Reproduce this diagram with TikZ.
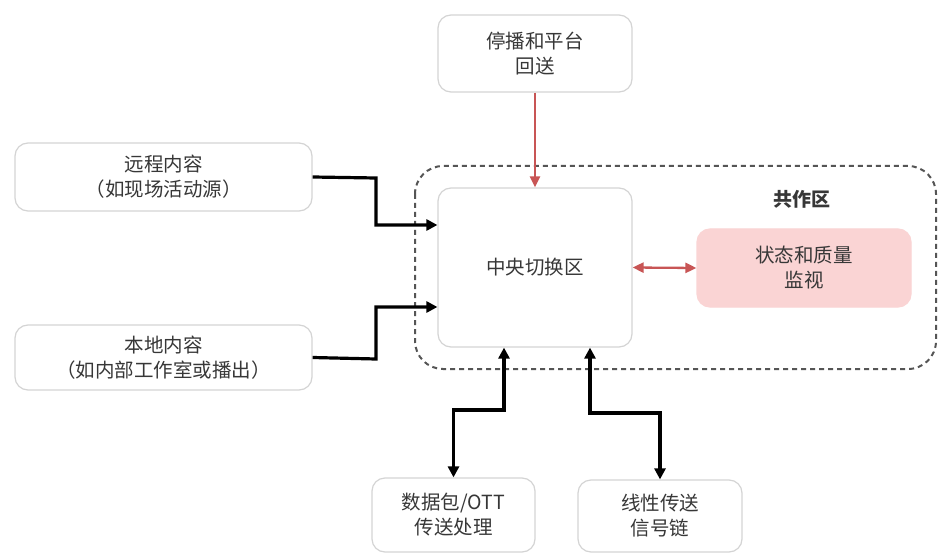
\documentclass[tikz,border=0pt]{standalone}
\usepackage{fontspec}
\setmainfont{Noto Sans CJK SC}
\newfontfamily\cjk{Noto Sans CJK SC}
\usetikzlibrary{arrows.meta}
\definecolor{boxline}{RGB}{212,212,212}
\definecolor{txt}{RGB}{55,55,55}
\definecolor{redl}{RGB}{200,85,85}
\definecolor{pinkf}{RGB}{250,212,212}
\definecolor{zonegray}{RGB}{85,85,85}
\tikzset{
  box/.style={draw=boxline, line width=1.2pt, rounded corners=13pt, fill=white,
    align=center, text=txt, font=\cjk\fontsize{19.5}{25}\selectfont, inner sep=0pt},
  blk/.style={line width=3.2pt, black, -{Triangle[length=11pt,width=11pt]}},
  blkb/.style={line width=3.2pt, black, {Triangle[length=11pt,width=11pt]}-{Triangle[length=11pt,width=11pt]}},
  redar/.style={line width=2.3pt, redl, -{Triangle[length=11pt,width=10pt]}},
  redb/.style={line width=2.3pt, redl, {Triangle[length=11pt,width=10pt]}-{Triangle[length=11pt,width=10pt]}},
  zonestyle/.style={draw=zonegray, line width=2pt, dash pattern=on 5pt off 4pt, rounded corners=28pt},
}
\begin{document}
\begin{tikzpicture}[x=1pt,y=-1pt]
\useasboundingbox[fill=white] (0,0) rectangle (939,553);
% dashed zone
\draw[zonestyle] (415,166) rectangle (936,369);
\node[text=txt, font=\cjk\bfseries\fontsize{19}{22}\selectfont] (zone) at (802,199) {共作区};
% nodes
\node[box, minimum width=194pt, minimum height=77pt] (t) at (535,53.5) {停播和平台\\回送};
\node[box, minimum width=194pt, minimum height=159pt] (c) at (535,267.5) {中央切换区};
\node[box, draw=pinkf, fill=pinkf, minimum width=214pt, minimum height=78pt] (m) at (804,268) {状态和质量\\监视};
\node[box, minimum width=297pt, minimum height=68pt] (l1) at (163.5,177) {远程内容\\（如现场活动源）};
\node[box, minimum width=297pt, minimum height=65pt] (l2) at (163.5,357.5) {本地内容\\（如内部工作室或播出）};
\node[box, minimum width=163pt, minimum height=74pt] (b1) at (453.5,515) {数据包/OTT\\传送处理};
\node[box, minimum width=164pt, minimum height=72pt] (b2) at (660,516) {线性传送\\信号链};
% connectors
\draw[redar] (t.south) -- (c.north);
\draw[redb] (c.east) -- (m.west);
\draw[blk] (l1.east) -- (376,178) |- (c.west |- 0,225);
\draw[blk] (l2.east) -- (376,359) |- (c.west |- 0,307);
\draw[blkb] (c.south -| 504,0) -- (504,410) -| (b1.north);
\draw[blkb] (c.south -| 590,0) -- (590,413) -| (b2.north);
\end{tikzpicture}
\end{document}
